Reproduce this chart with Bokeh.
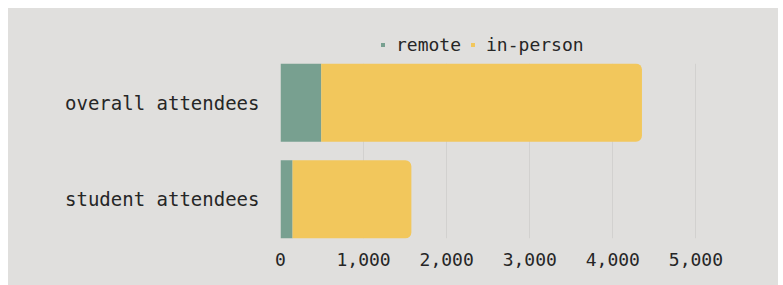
from bokeh.plotting import figure
from bokeh.layouts import column
from bokeh.models import ColumnDataSource, FactorRange, Range1d, FixedTicker, NumeralTickFormatter, Legend, LegendItem
from bokeh.embed import file_html
from bokeh.resources import INLINE

categories = ["student attendees", "overall attendees"]
remote = [145, 490]
in_person = [1430, 3860]
series = ["remote", "in-person"]
colors = ["#78a090", "#f2c75c"]
x_ticks = [0, 1000, 2000, 3000, 4000, 5000]

bg = "#e0dfdd"
font = "DejaVu Sans Mono"
text_color = "#262626"

remote_end = [r for r in remote]
total = [r + i for r, i in zip(remote, in_person)]
src = ColumnDataSource(dict(cat=categories, remote=remote, in_person=in_person,
                            zero=[0] * len(categories), remote_end=remote_end, total=total))

# ---- legend strip (separate figure so the legend is not clipped by the plot frame);
# its bars are hidden, only the legend is seen
leg = figure(width=770, height=50, output_backend="svg", toolbar_location=None,
             x_range=Range1d(-2, -1), y_range=FactorRange(factors=categories),
             x_axis_location=None, y_axis_location=None,
             min_border_left=272, min_border_right=41, min_border_top=0, min_border_bottom=0)
leg.background_fill_color = None
leg.border_fill_color = bg
leg.outline_line_color = None
leg.grid.grid_line_color = None
lr1 = leg.hbar(y="cat", left="zero", right="remote_end", height=0.8, source=src,
               fill_color=colors[0], line_color=None)
lr2 = leg.hbar(y="cat", left="remote_end", right="total", height=0.8, source=src,
               fill_color=colors[1], line_color=None)
lr1.visible = False
lr2.visible = False
legend = Legend(items=[LegendItem(label=series[0], renderers=[lr1]),
                       LegendItem(label=series[1], renderers=[lr2])],
                orientation="horizontal", location=(100, 3),
                background_fill_alpha=0, border_line_color=None,
                inactive_fill_alpha=0,
                glyph_width=5, glyph_height=5, label_standoff=11, spacing=9,
                label_text_font=font, label_text_font_size="18px",
                label_text_color=text_color, padding=0, margin=0)
leg.add_layout(legend, "center")

# ---- main chart
p = figure(width=770, height=227, output_backend="svg", toolbar_location=None,
           y_range=FactorRange(factors=categories, range_padding=-0.095, range_padding_units="absolute"),
           x_range=Range1d(0, 5500),
           min_border_left=272, min_border_right=41, min_border_top=5, min_border_bottom=47)
p.background_fill_color = None
p.border_fill_color = bg
p.outline_line_color = None

p.hbar(y="cat", left="zero", right="remote_end", height=0.81, source=src,
       fill_color=colors[0], line_color=None)
p.hbar(y="cat", left="remote_end", right="total", height=0.81, source=src,
       fill_color=colors[1], line_color=None, border_radius=(0, 6, 6, 0))

p.xaxis.ticker = FixedTicker(ticks=x_ticks)
p.xaxis.formatter = NumeralTickFormatter(format="0,0")
p.xgrid.ticker = FixedTicker(ticks=x_ticks)
p.xgrid.grid_line_color = "#d2d1cf"
p.ygrid.grid_line_color = None

for ax in (p.xaxis, p.yaxis):
    ax.axis_line_color = None
    ax.major_tick_line_color = None
    ax.minor_tick_line_color = None
    ax.major_tick_out = 0
    ax.major_tick_in = 0
    ax.major_label_text_font = font
    ax.major_label_text_color = text_color
p.xaxis.major_label_text_font_size = "18px"
p.xaxis.major_label_standoff = 14
p.yaxis.major_label_text_font_size = "19px"
p.yaxis.major_label_standoff = 21

layout = column(leg, p, spacing=0, styles={"background-color": bg})
layout.margin = (8, 0, 0, 8)

open("out.html", "w").write(file_html(layout, INLINE))
